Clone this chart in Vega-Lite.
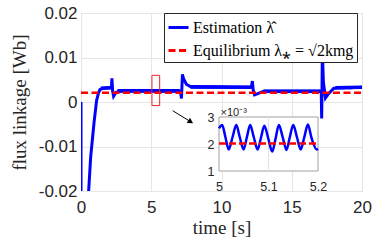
{
  "$schema": "https://vega.github.io/schema/vega-lite/v6.json",
  "width": 281,
  "height": 178,
  "autosize": {"type": "none"},
  "padding": {"left": 81, "top": 13, "right": 20, "bottom": 55},
  "config": {
    "font": "Liberation Serif",
    "view": {"stroke": "#a0a0a0", "strokeWidth": 1},
    "axis": {"labelFont": "Liberation Sans", "titleFont": "Liberation Serif", "labelColor": "#262626", "titleColor": "#262626", "titleFontWeight": "normal"},
    "legend": {"labelFont": "Liberation Serif", "labelFontSize": 16, "labelColor": "black"}
  },
  "datasets": {
    "band": [
      {"seg": "a", "t": 1.4, "y": 0.0027, "y2": 0.0035},
      {"seg": "a", "t": 2.12, "y": 0.0028, "y2": 0.0036},
      {"seg": "b", "t": 2.6, "y": 0.0021, "y2": 0.0029},
      {"seg": "b", "t": 7.02, "y": 0.0021, "y2": 0.0029},
      {"seg": "c", "t": 7.8, "y": 0.003, "y2": 0.0038},
      {"seg": "c", "t": 12.1, "y": 0.0029, "y2": 0.0037},
      {"seg": "d", "t": 13.0, "y": 0.002, "y2": 0.0028},
      {"seg": "d", "t": 17.03, "y": 0.002, "y2": 0.0028},
      {"seg": "e", "t": 18.1, "y": 0.0028, "y2": 0.0036},
      {"seg": "e", "t": 20, "y": 0.0029, "y2": 0.0037}
    ],
    "est": [
      {"t": 0, "y": 0}, {"t": 0.003, "y": -0.03}, {"t": 0.36, "y": -0.03},
      {"t": 0.546, "y": -0.0199}, {"t": 0.688, "y": -0.0124}, {"t": 0.922, "y": -0.0048},
      {"t": 1.113, "y": 0.0004}, {"t": 1.234, "y": 0.0019}, {"t": 1.35, "y": 0.0028},
      {"t": 1.6, "y": 0.0031}, {"t": 2.1, "y": 0.0032}, {"t": 2.17, "y": 0.0034},
      {"t": 2.2, "y": 0.0053}, {"t": 2.25, "y": 0.0025}, {"t": 2.32, "y": 0.0013},
      {"t": 2.5, "y": 0.0022}, {"t": 2.8, "y": 0.0025}, {"t": 7.0, "y": 0.0025},
      {"t": 7.08, "y": 0.0023}, {"t": 7.15, "y": 0.0008}, {"t": 7.22, "y": 0.0062},
      {"t": 7.3, "y": 0.0052}, {"t": 7.5, "y": 0.004}, {"t": 7.8, "y": 0.0034},
      {"t": 12.12, "y": 0.0033}, {"t": 12.2, "y": 0.0047}, {"t": 12.25, "y": 0.0028},
      {"t": 12.35, "y": 0.0016}, {"t": 12.6, "y": 0.0019}, {"t": 13.0, "y": 0.0024},
      {"t": 17.05, "y": 0.0024}, {"t": 17.1, "y": 0.0021}, {"t": 17.13, "y": -0.0037},
      {"t": 17.18, "y": 0.0115}, {"t": 17.25, "y": 0.0045}, {"t": 17.4, "y": 0.0009},
      {"t": 17.6, "y": 0.0018}, {"t": 18.0, "y": 0.0031}, {"t": 20, "y": 0.0033}
    ],
    "eq": [{"t": 0, "y": 0.0021}, {"t": 20, "y": 0.0021}],
    "box": [{"t": 5.05, "t2": 5.6, "y": -0.0008, "y2": 0.006}],
    "arrow": [{"t": 6.53, "y": -0.00196, "t2": 7.81, "y2": -0.00445}],
    "head": [{"t": 7.81, "y": -0.00445}],
    "frame": [{"t": 5, "t2": 5.2, "v": 1, "v2": 3}],
    "igrid": [{"t": 5.1, "v": 1, "v2": 3}],
    "ins": [
      {"t": 5.0, "v": 2.58}, {"t": 5.0064, "v": 2.7}, {"t": 5.013, "v": 2.25},
      {"t": 5.0196, "v": 1.8}, {"t": 5.0273, "v": 2.25}, {"t": 5.035, "v": 2.7},
      {"t": 5.042, "v": 2.25}, {"t": 5.0496, "v": 1.8}, {"t": 5.0563, "v": 2.25},
      {"t": 5.063, "v": 2.7}, {"t": 5.0703, "v": 2.25}, {"t": 5.078, "v": 1.8},
      {"t": 5.085, "v": 2.25}, {"t": 5.0916, "v": 2.68}, {"t": 5.0996, "v": 2.2},
      {"t": 5.1076, "v": 1.72}, {"t": 5.1143, "v": 2.2}, {"t": 5.121, "v": 2.7},
      {"t": 5.1287, "v": 2.25}, {"t": 5.1364, "v": 1.78}, {"t": 5.143, "v": 2.25},
      {"t": 5.15, "v": 2.7}, {"t": 5.1575, "v": 2.25}, {"t": 5.165, "v": 1.8},
      {"t": 5.1723, "v": 2.25}, {"t": 5.1796, "v": 2.72}, {"t": 5.1865, "v": 2.25},
      {"t": 5.1975, "v": 1.8}, {"t": 5.2, "v": 1.82}
    ],
    "inseq": [{"t": 5, "v": 2.02}, {"t": 5.2, "v": 2.02}]
  },
  "layer": [
    {
      "encoding": {
        "x": {
          "field": "t", "type": "quantitative",
          "scale": {"domain": [0, 20], "nice": false, "zero": false},
          "axis": {
            "values": [0, 5, 10, 15, 20], "grid": true, "gridColor": "#e6e6e6",
            "domain": false, "ticks": false, "labelPadding": 8, "labelFontSize": 17,
            "labelFlush": false, "title": "time [s]", "titleFont": "Liberation Serif",
            "titleFontSize": 19, "titlePadding": 3
          }
        },
        "y": {
          "field": "y", "type": "quantitative",
          "scale": {"domain": [-0.02, 0.02], "nice": false, "zero": false},
          "axis": {
            "values": [-0.02, -0.01, 0, 0.01, 0.02], "grid": true, "gridColor": "#e6e6e6",
            "domain": false, "ticks": false, "labelPadding": 4, "labelFontSize": 17,
            "labelExpr": "datum.value < 0 ? '-' + format(-datum.value, '~g') : format(datum.value, '~g')",
            "title": "flux linkage [Wb]", "titleFont": "Liberation Serif",
            "titleFontSize": 19, "titlePadding": 9
          }
        }
      },
      "layer": [
        {
          "data": {"name": "band"},
          "mark": {"type": "area", "color": "#0000ff", "clip": true},
          "encoding": {"y2": {"field": "y2"}, "detail": {"field": "seg"}}
        },
        {
          "data": {"name": "est"},
          "mark": {"type": "line", "strokeWidth": 3, "clip": true},
          "encoding": {
            "stroke": {
              "datum": "Estimation λ̂", "type": "nominal",
              "scale": {"domain": ["Estimation λ̂", "Equilibrium λ⁎ = √2kmg"], "range": ["#0000ff", "#ff0000"]},
              "legend": {
                "title": null, "orient": "none", "legendX": 83, "legendY": 0,
                "fillColor": "white", "strokeColor": "#262626", "padding": 3,
                "symbolType": "stroke", "symbolSize": 400, "symbolStrokeWidth": 3,
                "labelFont": "Liberation Serif", "labelFontSize": 16, "labelColor": "black",
                "labelOffset": 3, "rowPadding": 3, "labelLimit": 400
              }
            },
            "strokeDash": {
              "datum": "Estimation λ̂", "type": "nominal",
              "scale": {"domain": ["Estimation λ̂", "Equilibrium λ⁎ = √2kmg"], "range": [[1, 0], [7, 3.5]]},
              "legend": {
                "title": null, "orient": "none", "legendX": 83, "legendY": 0,
                "fillColor": "white", "strokeColor": "#262626", "padding": 3,
                "symbolType": "stroke", "symbolSize": 400, "symbolStrokeWidth": 3,
                "labelFont": "Liberation Serif", "labelFontSize": 16, "labelColor": "black",
                "labelOffset": 3, "rowPadding": 3, "labelLimit": 400
              }
            }
          }
        },
        {
          "data": {"name": "eq"},
          "mark": {"type": "line", "strokeWidth": 2.5, "clip": true},
          "encoding": {
            "stroke": {"datum": "Equilibrium λ⁎ = √2kmg", "type": "nominal"},
            "strokeDash": {"datum": "Equilibrium λ⁎ = √2kmg", "type": "nominal"}
          }
        },
        {
          "data": {"name": "box"},
          "mark": {"type": "rect", "fill": null, "fillOpacity": 0, "stroke": "#e8262a", "strokeWidth": 1},
          "encoding": {"x2": {"field": "t2"}, "y2": {"field": "y2"}}
        },
        {
          "data": {"name": "arrow"},
          "mark": {"type": "rule", "color": "black", "strokeWidth": 1},
          "encoding": {"x2": {"field": "t2"}, "y2": {"field": "y2"}}
        },
        {
          "data": {"name": "head"},
          "mark": {"type": "point", "shape": "triangle-right", "angle": 31, "size": 40, "filled": true, "color": "black", "opacity": 1},
          "encoding": {}
        }
      ]
    },
    {
      "encoding": {
        "x": {
          "field": "t", "type": "quantitative",
          "scale": {"domain": [5, 5.2], "range": [138, 237], "nice": false, "zero": false},
          "axis": {
            "orient": "bottom", "offset": -20, "values": [5, 5.1, 5.2], "format": "~g",
            "grid": false, "domain": false, "ticks": false, "labelPadding": 9,
            "labelFontSize": 12.5, "labelFlush": false, "title": null, "zindex": 1
          }
        },
        "y": {
          "field": "v", "type": "quantitative",
          "scale": {"domain": [1, 3], "range": [158, 104], "nice": false, "zero": false},
          "axis": {
            "orient": "left", "offset": -138, "values": [1, 2, 3], "format": "~g",
            "grid": false, "domain": false, "ticks": false, "labelPadding": 5,
            "labelFontSize": 12.5, "title": "×10⁻³", "titleAngle": 0, "titleAlign": "left",
            "titleBaseline": "alphabetic", "titleX": 1, "titleY": 102, "titleFontSize": 11,
            "titleFont": "Liberation Sans", "zindex": 1
          }
        }
      },
      "layer": [
        {
          "data": {"name": "frame"},
          "mark": {"type": "rect", "fill": "white", "stroke": "#a0a0a0", "strokeWidth": 1},
          "encoding": {"x2": {"field": "t2"}, "y2": {"field": "v2"}}
        },
        {
          "data": {"name": "igrid"},
          "mark": {"type": "rule", "color": "#e0e0e0", "strokeWidth": 1},
          "encoding": {"y2": {"field": "v2"}}
        },
        {
          "data": {"name": "ins"},
          "mark": {"type": "line", "color": "#0000ff", "strokeWidth": 2.5, "interpolate": "monotone"},
          "encoding": {}
        },
        {
          "data": {"name": "inseq"},
          "mark": {"type": "line", "color": "#ff0000", "strokeWidth": 2.5, "strokeDash": [7, 3]},
          "encoding": {}
        }
      ]
    }
  ],
  "resolve": {"scale": {"x": "independent", "y": "independent"}}
}
